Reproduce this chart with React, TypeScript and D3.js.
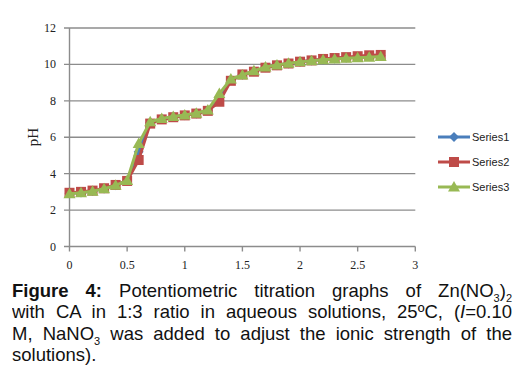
import React from 'react'
import * as d3 from 'd3'

// titrant volume (x) and pH readings for the three runs
const xValues = [
    0, 0.1, 0.2, 0.3, 0.4, 0.5, 0.6, 0.7, 0.8, 0.9, 1.0, 1.1, 1.2, 1.3, 1.4,
    1.5, 1.6, 1.7, 1.8, 1.9, 2.0, 2.1, 2.2, 2.3, 2.4, 2.5, 2.6, 2.7,
]
const series1 = [
    2.92, 2.97, 3.05, 3.18, 3.37, 3.62, 5.2, 6.8, 7.0, 7.12, 7.21, 7.31, 7.48,
    8.2, 9.15, 9.43, 9.62, 9.84, 9.96, 10.05, 10.14, 10.21, 10.27, 10.32,
    10.37, 10.41, 10.45, 10.48,
]
const series2 = [
    2.95, 3.0, 3.07, 3.2, 3.38, 3.6, 4.75, 6.75, 6.98, 7.1, 7.2, 7.3, 7.45,
    7.95, 9.1, 9.45, 9.6, 9.82, 9.95, 10.05, 10.15, 10.22, 10.3, 10.35, 10.4,
    10.45, 10.5, 10.52,
]
const series3 = [
    2.9, 2.95, 3.03, 3.17, 3.36, 3.63, 5.65, 6.85, 7.03, 7.14, 7.22, 7.32, 7.5,
    8.4, 9.2, 9.42, 9.65, 9.86, 9.97, 10.06, 10.14, 10.2, 10.25, 10.3, 10.34,
    10.37, 10.4, 10.44,
]
const seriesNames = ['Series1', 'Series2', 'Series3']
const xTicks = [0, 0.5, 1, 1.5, 2, 2.5, 3]
const yTicks = [0, 2, 4, 6, 8, 10, 12]

const colors = ['#4A7EBB', '#BE4B48', '#98B954']
const gridColor = '#8c8c8c'

const x = d3.scaleLinear().domain([0, 3]).range([69.5, 415.3])
const y = d3.scaleLinear().domain([0, 12]).range([246.5, 28])

const Marker = ({ kind, cx, cy, color }) => {
    if (kind === 0) {
        const s = 5
        return (
            <path
                d={`M${cx},${cy - s}L${cx + s},${cy}L${cx},${cy + s}L${cx - s},${cy}Z`}
                fill={color}
            />
        )
    }
    if (kind === 1) {
        return <rect x={cx - 5} y={cy - 5} width={10} height={10} fill={color} />
    }
    return (
        <path
            d={`M${cx},${cy - 6}L${cx + 6},${cy + 4.5}L${cx - 6},${cy + 4.5}Z`}
            fill={color}
        />
    )
}

const App = () => {
    const allSeries = [series1, series2, series3]
    const line = d3
        .line<number>()
        .x((_, i) => x(xValues[i]))
        .y((d) => y(d))

    const captionLine = {
        width: 500,
        textAlign: 'justify' as const,
        textAlignLast: 'justify' as const,
        height: 21.3,
        lineHeight: '21.3px',
        whiteSpace: 'nowrap' as const,
    }
    const sub = { fontSize: 11, verticalAlign: -5, lineHeight: 0 }

    return (
        <div style={{ position: 'absolute', left: 0, top: 0 }}>
            <svg width={527} height={387} style={{ display: 'block' }}>
                <rect width={527} height={387} fill="#fff" />

                {/* gridlines + y ticks */}
                {yTicks.map((t) => (
                    <g key={t}>
                        <line
                            x1={64}
                            x2={x(3)}
                            y1={y(t)}
                            y2={y(t)}
                            stroke={gridColor}
                            strokeWidth={1.4}
                        />
                        <text
                            x={56}
                            y={y(t) + 4}
                            textAnchor="end"
                            fontFamily="Liberation Serif"
                            fontSize={12}
                            fill="#222"
                        >
                            {t}
                        </text>
                    </g>
                ))}
                <line x1={x(0)} x2={x(0)} y1={y(12)} y2={y(0)} stroke={gridColor} strokeWidth={1.4} />
                {xTicks.map((t) => (
                    <g key={t}>
                        <line
                            x1={x(t)}
                            x2={x(t)}
                            y1={y(0)}
                            y2={y(0) + 5}
                            stroke={gridColor}
                            strokeWidth={1.4}
                        />
                        <text
                            x={x(t)}
                            y={269}
                            textAnchor="middle"
                            fontFamily="Liberation Serif"
                            fontSize={12}
                            fill="#222"
                        >
                            {t}
                        </text>
                    </g>
                ))}
                <text
                    transform={`translate(38,137) rotate(-90)`}
                    textAnchor="middle"
                    fontFamily="Liberation Serif"
                    fontSize={15}
                    fill="#222"
                >
                    pH
                </text>

                {/* series */}
                {allSeries.map((s, k) => (
                    <g key={k}>
                        <path
                            d={line(s) || ''}
                            fill="none"
                            stroke={colors[k]}
                            strokeWidth={3}
                        />
                        {s.map((v, i) => (
                            <Marker key={i} kind={k} cx={x(xValues[i])} cy={y(v)} color={colors[k]} />
                        ))}
                    </g>
                ))}

                {/* legend */}
                {seriesNames.map((n, k) => {
                    const ly = 137 + k * 25
                    return (
                        <g key={n}>
                            <line x1={438} x2={470} y1={ly} y2={ly} stroke={colors[k]} strokeWidth={3} />
                            <Marker kind={k} cx={454} cy={ly} color={colors[k]} />
                            <text
                                x={472}
                                y={ly + 4}
                                fontFamily="Liberation Sans"
                                fontSize={11}
                                fill="#222"
                            >
                                {n}
                            </text>
                        </g>
                    )
                })}

                {/* caption */}
                <foreignObject x={12} y={280} width={505} height={100}>
                    <div
                        style={{
                            fontFamily: 'Liberation Sans, Arial, sans-serif',
                            fontSize: 18.5,
                            color: '#111',
                        }}
                    >
                        <div style={captionLine}>
                            <b>Figure 4:</b> Potentiometric titration graphs of Zn(NO
                            <span style={sub}>3</span>)<span style={sub}>2</span>
                        </div>
                        <div style={captionLine}>
                            with CA in 1:3 ratio in aqueous solutions, 25ºC, (<i>I</i>=0.10
                        </div>
                        <div style={captionLine}>
                            M, NaNO<span style={sub}>3</span> was added to adjust the ionic strength of the
                        </div>
                        <div style={{ ...captionLine, textAlignLast: 'left' as const }}>
                            solutions).
                        </div>
                    </div>
                </foreignObject>
            </svg>
        </div>
    )
}

export default App
